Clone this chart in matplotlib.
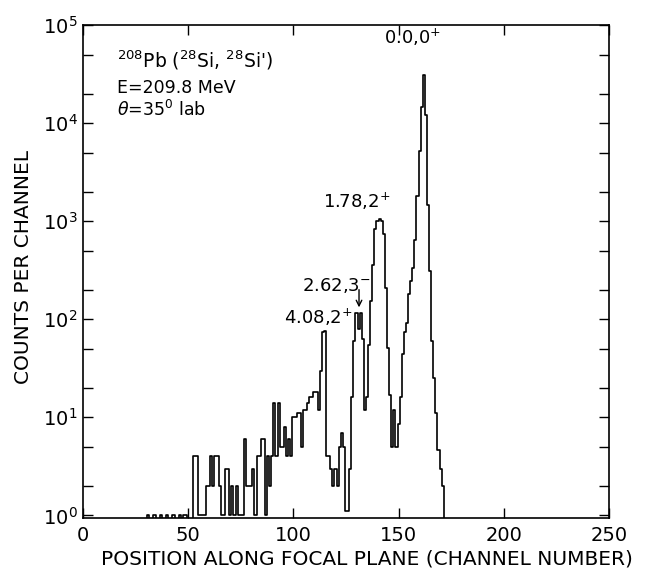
import matplotlib.pyplot as plt
import numpy as np
from matplotlib.ticker import LogLocator, NullFormatter

# channel numbers and counts
channel = np.arange(28, 173)
counts = [
    0, 0, 0, 1, 0, 0, 1, 0, 0, 1,            # 28-37
    0, 0, 1, 0, 0, 1, 0, 0, 1, 0,            # 38-47
    1, 1, 0, 0, 0, 4, 4, 1, 1, 1,            # 48-57
    1, 2, 2, 4, 2, 4, 4, 2, 1, 1,            # 58-67
    3, 3, 1, 2, 1, 2, 1, 1, 1, 6,            # 68-77
    2, 2, 2, 3, 1, 4, 4, 6, 6, 1,            # 78-87
    4, 2, 4, 14, 4, 14, 5, 5, 8, 4,          # 88-97
    6, 4, 10, 10, 11, 11, 5, 12, 12, 14,     # 98-107
    16, 16, 18, 18, 12, 30, 75, 76, 4, 4,    # 108-117
    3, 2, 3, 2, 5, 7, 5, 1.1, 1.1, 3,        # 118-127
    16, 60, 115, 80, 115, 63, 12, 16, 55, 152,           # 128-137
    355, 840, 1000, 1050, 1000, 750, 210, 51, 17, 5,     # 138-147
    12, 5, 8.5, 16, 44, 75, 92, 180, 244, 330,           # 148-157
    645, 1830, 5200, 14800, 31000, 12000, 1450, 310, 60, 25,  # 158-167
    11, 4.6, 3, 2, 0,                        # 168-172
]

header = ["$^{208}$Pb ($^{28}$Si, $^{28}$Si')",
          "E=209.8 MeV",
          r"$\theta$=35$^{0}$ lab"]
header_y = [0.929, 0.872, 0.828]
header_size = [13.5, 12.5, 12.5]

# state labels: text, channel, counts (baseline)
state_text = ["0.0,0$^{+}$", "1.78,2$^{+}$", "2.62,3$^{-}$", "4.08,2$^{+}$"]
state_x = [156.8, 130.2, 120.2, 111.7]
state_y = [65500, 1390, 194, 91]

fig = plt.figure(figsize=(6.55, 5.73), dpi=100)
ax = fig.add_axes([0.1267, 0.096, 0.803, 0.860])

ax.step(channel, counts, where='mid', color='black', lw=1.2)

ax.set_yscale('log', nonpositive='clip')
ax.set_xlim(0, 250)
ax.set_ylim(0.94, 1e5)

ax.set_xticks([0, 50, 100, 150, 200, 250])
ax.yaxis.set_major_locator(LogLocator(base=10, numticks=10))
ax.yaxis.set_minor_locator(LogLocator(base=10, subs=(2, 5), numticks=10))
ax.yaxis.set_minor_formatter(NullFormatter())
ax.tick_params(axis='both', which='both', direction='in', top=True, right=True,
               length=7, width=1.0, labelsize=14)
ax.tick_params(axis='x', pad=6)
ax.tick_params(axis='y', pad=4)
for s in ax.spines.values():
    s.set_linewidth(1.2)

ax.set_xlabel('POSITION ALONG FOCAL PLANE (CHANNEL NUMBER)', fontsize=14.5)
ax.xaxis.set_label_coords(0.54, -0.064)
ax.set_ylabel('COUNTS PER CHANNEL', fontsize=14.5)
ax.yaxis.set_label_coords(-0.095, 0.51)

for line, y, fs in zip(header, header_y, header_size):
    ax.text(0.065, y, line, transform=ax.transAxes,
            fontsize=fs, ha='left', va='center')

for t, x, y in zip(state_text, state_x, state_y):
    ax.text(x, y, t, fontsize=13, ha='center', va='baseline')

ax.annotate('', xy=(131.2, 124), xytext=(131.2, 214),
            arrowprops=dict(arrowstyle='->', color='black', lw=1.0))

fig.savefig('out.png', dpi=100)
